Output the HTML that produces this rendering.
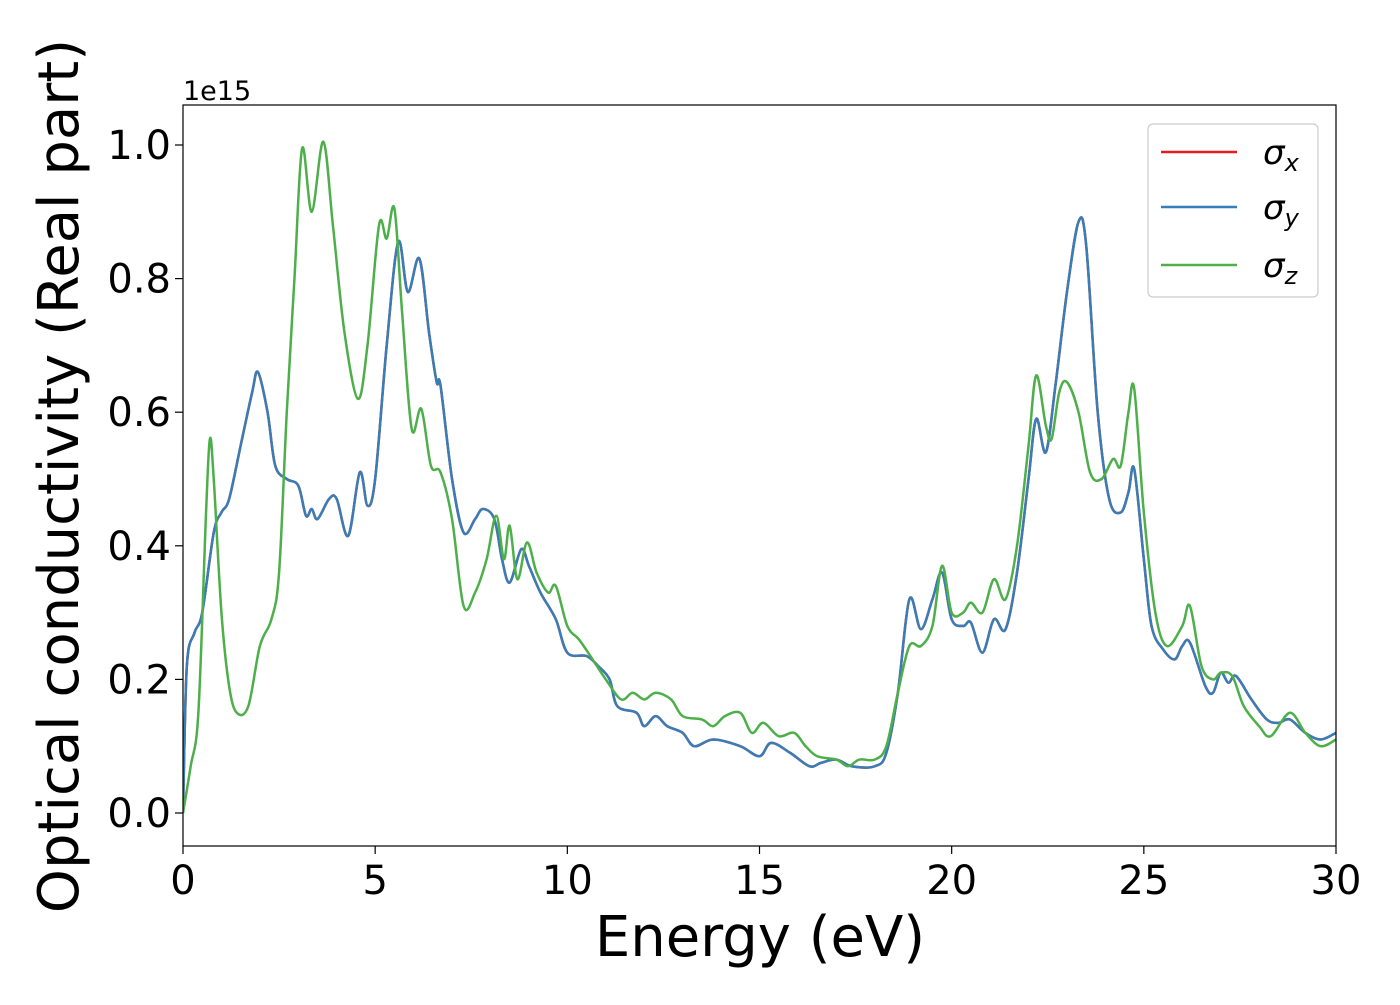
<!DOCTYPE html>
<html><head><meta charset="utf-8"><style>
html,body{margin:0;padding:0;background:#fff;}
svg text{font-family:"DejaVu Sans","Liberation Sans",sans-serif;fill:#000;}
</style></head><body>
<svg id="chart" width="1400" height="1000" xmlns="http://www.w3.org/2000/svg">
<g id="plot"></g>
</svg>
<script>
const energy = [0,0.1,0.3,0.5,0.8,1.0,1.2,1.5,1.8,1.95,2.2,2.4,2.7,3.0,3.2,3.35,3.5,3.8,4.0,4.3,4.6,4.8,5.0,5.3,5.6,5.85,6.15,6.4,6.6,6.7,7.0,7.3,7.6,7.8,8.1,8.3,8.5,8.8,9.0,9.3,9.7,10.0,10.5,10.8,11.1,11.3,11.8,12.0,12.3,12.6,13.0,13.3,13.8,14.5,15.0,15.3,15.8,16.3,16.6,17.0,17.4,18.0,18.3,18.6,18.9,19.2,19.5,19.75,20.0,20.3,20.5,20.8,21.1,21.4,21.7,22.0,22.2,22.45,22.7,23.0,23.3,23.5,23.8,24.1,24.4,24.6,24.75,25.0,25.2,25.5,25.8,26.0,26.2,26.6,26.8,27.0,27.2,27.4,27.8,28.2,28.5,28.8,29.2,29.6,30];
const sigmaY = [0,0.22,0.27,0.30,0.42,0.45,0.47,0.55,0.63,0.66,0.6,0.52,0.50,0.49,0.445,0.455,0.44,0.47,0.47,0.415,0.51,0.46,0.5,0.7,0.855,0.78,0.83,0.72,0.645,0.64,0.5,0.42,0.44,0.455,0.44,0.38,0.345,0.395,0.37,0.33,0.29,0.24,0.235,0.22,0.2,0.16,0.15,0.13,0.145,0.13,0.12,0.1,0.11,0.10,0.085,0.105,0.09,0.07,0.075,0.08,0.07,0.07,0.09,0.18,0.32,0.275,0.32,0.36,0.29,0.28,0.285,0.24,0.29,0.275,0.36,0.5,0.59,0.54,0.64,0.78,0.885,0.85,0.6,0.47,0.45,0.48,0.515,0.38,0.28,0.245,0.23,0.25,0.255,0.19,0.18,0.21,0.195,0.205,0.17,0.14,0.135,0.14,0.12,0.11,0.12];
const sigmaX = sigmaY.slice();
const energyZ = [0,0.2,0.4,0.6,0.7,0.8,1.0,1.2,1.4,1.7,2.0,2.3,2.5,2.7,2.9,3.1,3.35,3.65,3.9,4.2,4.55,4.8,5.1,5.3,5.5,5.7,5.95,6.2,6.45,6.7,7.0,7.3,7.6,7.9,8.15,8.35,8.5,8.7,8.95,9.2,9.5,9.7,10.0,10.3,10.6,11.0,11.4,11.7,12.0,12.3,12.7,13.0,13.5,13.8,14.1,14.5,14.8,15.1,15.5,15.9,16.2,16.5,17.0,17.3,17.6,18.0,18.3,18.6,18.9,19.2,19.5,19.75,20.0,20.3,20.5,20.8,21.1,21.4,21.7,22.0,22.2,22.45,22.6,22.8,23.0,23.3,23.6,23.9,24.2,24.4,24.6,24.75,25.0,25.3,25.6,26.0,26.2,26.5,26.8,27.0,27.3,27.6,28.0,28.3,28.8,29.2,29.6,30];
const sigmaZ = [0,0.07,0.15,0.45,0.56,0.5,0.3,0.19,0.15,0.16,0.25,0.29,0.36,0.6,0.8,0.995,0.9,1.005,0.88,0.72,0.62,0.7,0.88,0.86,0.905,0.75,0.575,0.605,0.52,0.51,0.44,0.31,0.33,0.38,0.445,0.38,0.43,0.35,0.405,0.36,0.33,0.34,0.28,0.26,0.235,0.2,0.17,0.18,0.17,0.18,0.17,0.145,0.14,0.13,0.145,0.15,0.12,0.135,0.115,0.12,0.1,0.085,0.08,0.07,0.08,0.08,0.1,0.18,0.25,0.25,0.28,0.37,0.3,0.3,0.315,0.3,0.35,0.32,0.4,0.55,0.655,0.58,0.56,0.63,0.645,0.6,0.51,0.5,0.53,0.52,0.6,0.635,0.45,0.3,0.25,0.28,0.31,0.22,0.2,0.21,0.205,0.16,0.13,0.115,0.15,0.12,0.1,0.11];
const xTicks = [0,5,10,15,20,25,30];
const yTicks = [0.0,0.2,0.4,0.6,0.8,1.0];

const X0=183, X1=1336, YT=105, YB=846;
const xs = v => X0 + (v-0)/(30-0)*(X1-X0);
const ys = v => 813 - v*668;
const NS="http://www.w3.org/2000/svg";
const svg=document.getElementById('chart');
function mk(tag,attrs,parent){const e=document.createElementNS(NS,tag);for(const k in attrs)e.setAttribute(k,attrs[k]);(parent||svg).appendChild(e);return e;}

function pathFor(xv,yv){
  const p=xv.map((x,i)=>[xs(x),ys(yv[i])]);
  let d=`M${p[0][0]},${p[0][1]}`;
  for(let i=0;i<p.length-1;i++){
    const p0=p[i-1]||p[i],p1=p[i],p2=p[i+1],p3=p[i+2]||p2;
    const c1=[p1[0]+(p2[0]-p0[0])/6,p1[1]+(p2[1]-p0[1])/6];
    const c2=[p2[0]-(p3[0]-p1[0])/6,p2[1]-(p3[1]-p1[1])/6];
    d+=` C${c1[0]},${c1[1]} ${c2[0]},${c2[1]} ${p2[0]},${p2[1]}`;
  }
  return d;
}
const defs=mk('defs',{});
const cp=mk('clipPath',{id:'clip'},defs);
mk('rect',{x:X0,y:YT,width:X1-X0,height:YB-YT},cp);
const g=document.getElementById('plot');
g.setAttribute('clip-path','url(#clip)');
const series=[[energy,sigmaX,'#e41a1c','sigma-x-line'],[energy,sigmaY,'#377eb8','sigma-y-line'],[energyZ,sigmaZ,'#4daf4a','sigma-z-line']];
series.forEach(s=>{
  const p=mk('path',{d:pathFor(s[0],s[1]),fill:'none',stroke:s[2],'stroke-width':2.5},g);
  
  
});
const frame=mk('rect',{x:X0,y:YT,width:X1-X0,height:YB-YT,fill:'none',stroke:'#000','stroke-width':1.2});


xTicks.forEach(t=>{
  const x=xs(t);
  mk('line',{x1:x,x2:x,y1:YB,y2:YB+8,stroke:'#000','stroke-width':1.2});
  const tx=mk('text',{x:x,y:YB+48,'text-anchor':'middle','font-size':40});
  tx.textContent=t;
  
  
});
yTicks.forEach(t=>{
  const y=ys(t);
  mk('line',{x1:X0-8,x2:X0,y1:y,y2:y,stroke:'#000','stroke-width':1.2});
  const tx=mk('text',{x:X0-12,y:y+14,'text-anchor':'end','font-size':40});
  tx.textContent=t.toFixed(1);
  
  
});
</script>
<svg style="position:absolute;left:0;top:0" width="1400" height="1000" xmlns="http://www.w3.org/2000/svg">
<text x="183" y="100" font-size="27">1e15</text>
<text x="760" y="956" text-anchor="middle" font-size="56">Energy (eV)</text>
<text transform="translate(78,476) rotate(-90)" text-anchor="middle" font-size="56">Optical conductivity (Real part)</text>
<g>
<rect x="1148" y="124" width="170" height="173" rx="5" fill="#fff" fill-opacity="0.8" stroke="#ccc" stroke-width="1.2"/>
<line x1="1161" x2="1237" y1="152" y2="152" stroke="#e41a1c" stroke-width="2.5"/>
<text x="1263" y="164" font-size="34" font-style="italic">σ<tspan font-size="24" dy="7">x</tspan></text>
<line x1="1161" x2="1237" y1="207" y2="207" stroke="#377eb8" stroke-width="2.5"/>
<text x="1263" y="219" font-size="34" font-style="italic">σ<tspan font-size="24" dy="7">y</tspan></text>
<line x1="1161" x2="1237" y1="265" y2="265" stroke="#4daf4a" stroke-width="2.5"/>
<text x="1263" y="277" font-size="34" font-style="italic">σ<tspan font-size="24" dy="7">z</tspan></text>
</g>
</svg>
</body></html>
